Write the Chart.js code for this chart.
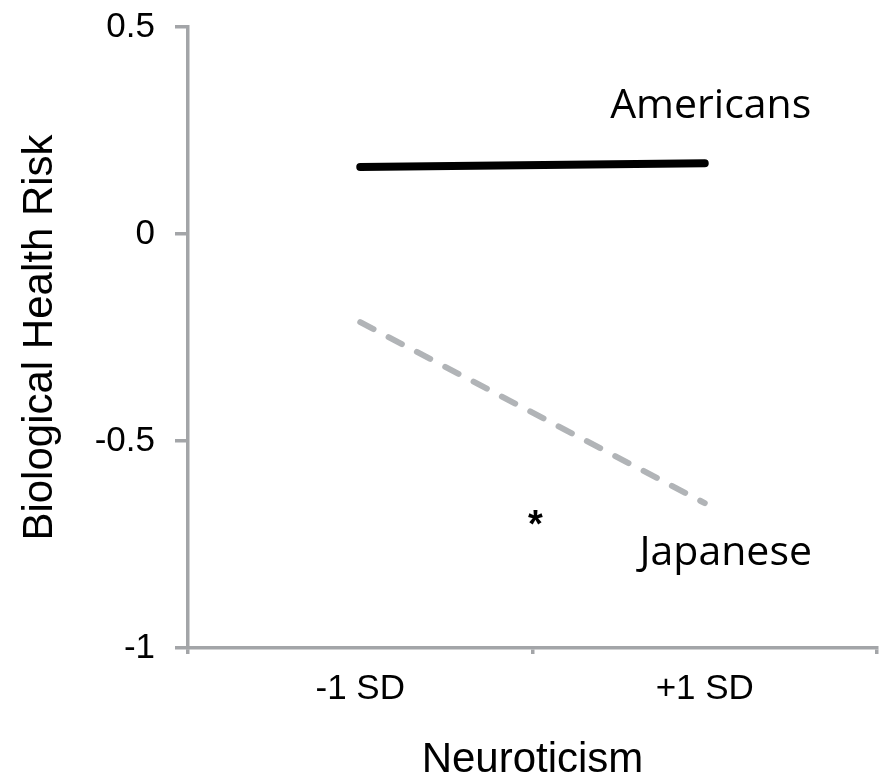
<!DOCTYPE html>
<html>
<head>
<meta charset="utf-8">
<script src="https://cdn.jsdelivr.net/npm/chart.js@4/dist/chart.umd.min.js"></script>
<style>
  body { margin: 0; background: #fff; }
  .wrap { width: 883px; height: 777px; }
</style>
</head>
<body>
<div class="wrap"><canvas id="riskChart"></canvas></div>
<script>
// data
const levels = ['-1 SD', '+1 SD'];
const americans = [0.162, 0.171];
const japanese = [-0.213, -0.650];
const yTicks = [-1, -0.5, 0, 0.5];

const axisGray = '#a3a5a8';

// series labels + significance mark, drawn next to the lines
const labelPlugin = {
  id: 'seriesLabels',
  afterDatasetsDraw(chart) {
    const ctx = chart.ctx;
    const x = chart.scales.x;
    const y = chart.scales.y;
    ctx.save();
    ctx.fillStyle = '#000';
    ctx.textAlign = 'center';
    ctx.textBaseline = 'alphabetic';
    ctx.font = '41px "Open Sans"';
    ctx.fillText('Americans', x.getPixelForValue(1) + 6, y.getPixelForValue(0.28));
    ctx.fillText('Japanese', x.getPixelForValue(1) + 21, y.getPixelForValue(-0.80));
    ctx.font = 'bold 38px "Liberation Sans"';
    ctx.fillText('*', x.getPixelForValue(0.5) + 3, y.getPixelForValue(-0.68) + 21);
    ctx.restore();
  }
};

const config = {
  type: 'line',
  data: {
    labels: levels,
    datasets: [
      {
        label: 'Americans',
        data: americans,
        borderColor: '#000',
        borderWidth: 8,
        borderCapStyle: 'round',
        pointRadius: 0,
        fill: false
      },
      {
        label: 'Japanese',
        data: japanese,
        borderColor: '#b1b4b7',
        borderWidth: 6,
        borderCapStyle: 'round',
        borderDash: [15, 17],
        pointRadius: 0,
        fill: false
      }
    ]
  },
  options: {
    responsive: true,
    maintainAspectRatio: false,
    animation: false,
    events: [],
    layout: { padding: { top: 27, right: 6, left: 0, bottom: 0 } },
    plugins: {
      legend: { display: false },
      tooltip: { enabled: false }
    },
    scales: {
      x: {
        type: 'category',
        offset: true,
        grid: {
          offset: true,
          drawOnChartArea: false,
          color: axisGray,
          lineWidth: 3.5,
          tickLength: 6
        },
        border: { color: axisGray, width: 3.5 },
        ticks: {
          color: '#000',
          font: { family: '"Liberation Sans", Arial', size: 35 },
          padding: 14,
          maxRotation: 0
        },
        title: {
          display: true,
          text: 'Neuroticism',
          color: '#000',
          font: { family: '"Liberation Sans", Arial', size: 42, lineHeight: 0.8 },
          padding: 0
        },
        afterFit(scale) {
          scale.height = 129;
          scale.paddingLeft = 0;
          scale.paddingRight = 0;
        }
      },
      y: {
        min: -1,
        max: 0.5,
        afterBuildTicks(scale) {
          scale.ticks = yTicks.map(v => ({ value: v }));
        },
        grid: {
          drawOnChartArea: false,
          color: axisGray,
          lineWidth: 3.5,
          tickLength: 13
        },
        border: { color: axisGray, width: 3.5 },
        ticks: {
          color: '#000',
          font: { family: '"Liberation Sans", Arial', size: 35 },
          padding: 20,
          callback: v => String(v)
        },
        title: {
          display: true,
          text: 'Biological Health Risk',
          color: '#000',
          font: { family: '"Liberation Sans", Arial', size: 42, lineHeight: 1 },
          padding: { top: 19, bottom: 0 }
        },
        afterFit(scale) {
          scale.width = 188;
          scale.paddingTop = 0;
          scale.paddingBottom = 0;
        }
      }
    }
  },
  plugins: [labelPlugin]
};

const riskChart = new Chart(document.getElementById('riskChart'), config);
</script>
</body>
</html>
